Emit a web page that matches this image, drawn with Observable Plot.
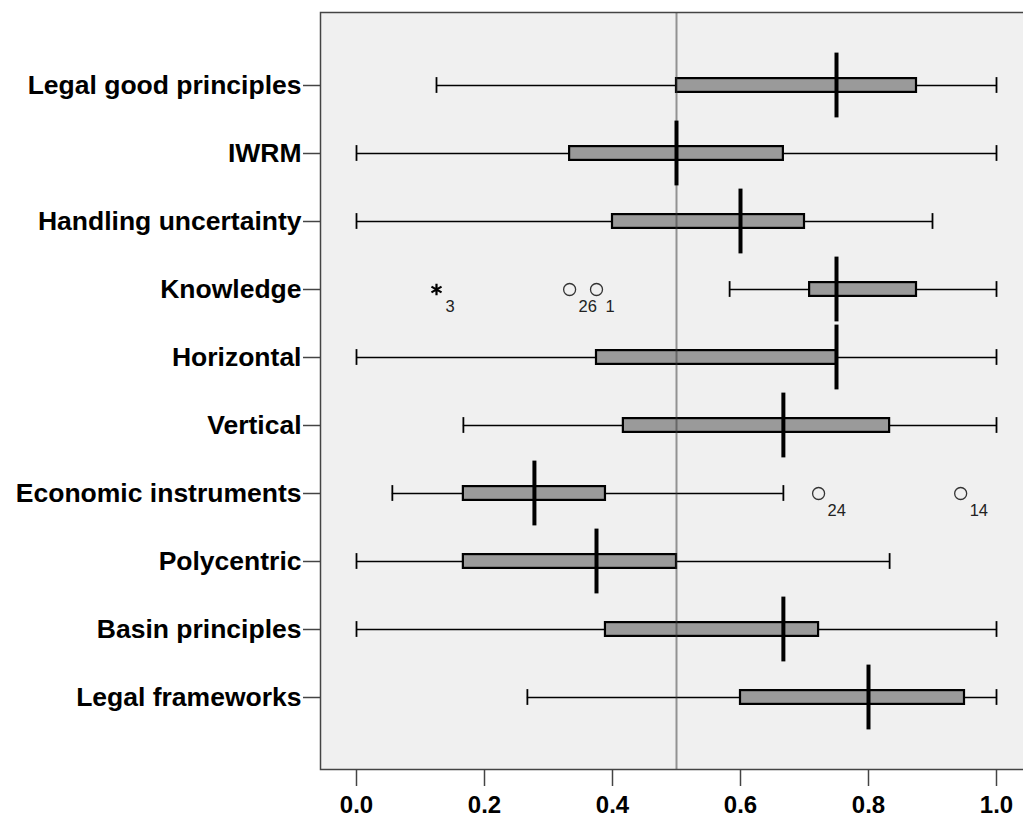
<!DOCTYPE html>
<html>
<head>
<meta charset="utf-8">
<script src="https://cdn.jsdelivr.net/npm/d3@7"></script>
<script src="https://cdn.jsdelivr.net/npm/@observablehq/plot@0.6"></script>
<style>
  html, body { margin: 0; padding: 0; background: white; }
  #chart { width: 1023px; height: 818px; overflow: hidden; }
</style>
</head>
<body>
<div id="chart"></div>
<script>
const categories = ["Legal good principles", "IWRM", "Handling uncertainty", "Knowledge", "Horizontal", "Vertical", "Economic instruments", "Polycentric", "Basin principles", "Legal frameworks"];
const whiskerLow  = [0.125, 0.000, 0.000, 0.583, 0.000, 0.167, 0.056, 0.000, 0.000, 0.267];
const q1Values    = [0.500, 0.333, 0.400, 0.708, 0.375, 0.417, 0.167, 0.167, 0.389, 0.600];
const medianValues= [0.750, 0.500, 0.600, 0.750, 0.750, 0.667, 0.278, 0.375, 0.667, 0.800];
const q3Values    = [0.875, 0.667, 0.700, 0.875, 0.750, 0.833, 0.389, 0.500, 0.722, 0.950];
const whiskerHigh = [1.000, 1.000, 0.900, 1.000, 1.000, 1.000, 0.667, 0.833, 1.000, 1.000];

const outlierCats  = ["Knowledge", "Knowledge", "Knowledge", "Economic instruments", "Economic instruments"];
const outlierVals  = [0.125, 0.333, 0.375, 0.722, 0.944];
const outlierIds   = ["3", "26", "1", "24", "14"];
const outlierKinds = ["extreme", "outlier", "outlier", "outlier", "outlier"];

const xTicks = [0, 0.2, 0.4, 0.6, 0.8, 1.0];
const referenceValue = [0.5];

const boxes = categories.map((c, i) => ({
  cat: c, lo: whiskerLow[i], q1: q1Values[i], med: medianValues[i], q3: q3Values[i], hi: whiskerHigh[i]
}));
const outliers = outlierCats.map((c, i) => ({cat: c, value: outlierVals[i], id: outlierIds[i], kind: outlierKinds[i]}));

const chart = Plot.plot({
  width: 1023,
  height: 818,
  marginLeft: 320,
  marginTop: 12,
  marginBottom: 49,
  marginRight: -2,
  style: {background: "white", fontFamily: "'Liberation Sans', Arial, sans-serif", overflow: "hidden"},
  x: {domain: [0, 1], range: [356, 996]},
  y: {type: "band", domain: categories, range: [49.9, 732.1], padding: 0},
  marks: [
    Plot.frame({fill: "#f0f0f0"}),
    Plot.ruleY(boxes, {y: "cat", x1: "lo", x2: "q1", stroke: "black", strokeWidth: 1.5}),
    Plot.ruleY(boxes, {y: "cat", x1: "q3", x2: "hi", stroke: "black", strokeWidth: 1.5}),
    Plot.tickX(boxes, {x: "lo", y: "cat", stroke: "black", strokeWidth: 1.8, insetTop: 26.1, insetBottom: 26.1}),
    Plot.tickX(boxes, {x: "hi", y: "cat", stroke: "black", strokeWidth: 1.8, insetTop: 26.1, insetBottom: 26.1}),
    Plot.barX(boxes, {x1: "q1", x2: "q3", y: "cat", fill: "#9a9a9a", stroke: "black", strokeWidth: 2.2, insetTop: 27.1, insetBottom: 27.1}),
    Plot.ruleX(referenceValue, {stroke: "#333", strokeOpacity: 0.5, strokeWidth: 2}),
    Plot.tickX(boxes, {x: "med", y: "cat", stroke: "black", strokeWidth: 4, insetTop: 1.6, insetBottom: 1.6}),
    Plot.dot(outliers.filter(d => d.kind === "outlier"), {x: "value", y: "cat", r: 6, stroke: "#333", strokeWidth: 1.3, fill: "none"}),
    Plot.dot(outliers.filter(d => d.kind === "extreme"), {x: "value", y: "cat", symbol: "asterisk", r: 5.5, stroke: "black", strokeWidth: 2.2}),
    Plot.text(outliers, {x: "value", y: "cat", text: "id", dx: 9, dy: 17, textAnchor: "start", fontSize: 16.5, fill: "#222"}),
    Plot.frame({stroke: "#444", strokeWidth: 1.5}),
    Plot.axisX({ticks: xTicks, tickFormat: d => d.toFixed(1), tickSize: 17, tickPadding: 9, fontSize: 24, fontWeight: "bold", color: "black", stroke: "#444", strokeWidth: 1.5, label: null}),
    Plot.axisY({tickSize: 17, tickPadding: 2, fontSize: 26.5, fontWeight: "bold", color: "black", stroke: "#444", strokeWidth: 1.5, label: null})
  ]
});
document.getElementById("chart").appendChild(chart);
</script>
</body>
</html>
